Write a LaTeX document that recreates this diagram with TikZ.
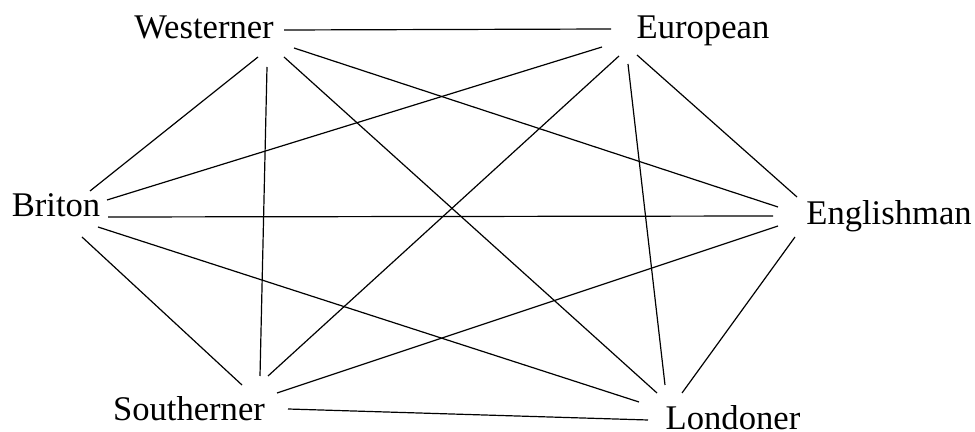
\documentclass[tikz,border=0pt]{standalone}
\usepackage{fontspec}
\setmainfont{Liberation Serif}
\begin{document}
\begin{tikzpicture}[x=0.5pt,y=-0.5pt,
  lbl/.style={anchor=base,inner sep=0pt,font=\fontsize{17.3}{20}\selectfont},
  edge/.style={draw=black,line width=0.6pt}]
\useasboundingbox (0,0) rectangle (975,432);
\node[lbl] (W) at (204,39) {Westerner};
\node[lbl] (E) at (703,39) {European};
\node[lbl] (B) at (56,217) {Briton};
\node[lbl] (G) at (889,225) {Englishman};
\node[lbl] (S) at (189,421) {Southerner};
\node[lbl] (L) at (733,430) {Londoner};
% Westerner
\draw[edge] ([shift={(80,-9)}]W.base) -- ([shift={(-92,-10)}]E.base);
\draw[edge] ([shift={(90,9)}]W.base) -- ([shift={(-111,-18)}]G.base);
\draw[edge] ([shift={(54,18)}]W.base) -- ([shift={(34,-26)}]B.base);
\draw[edge] ([shift={(63,28)}]W.base) -- ([shift={(71,-45)}]S.base);
\draw[edge] ([shift={(80,18)}]W.base) -- ([shift={(-76,-37)}]L.base);
% European
\draw[edge] ([shift={(-101,8)}]E.base) -- ([shift={(51,-17)}]B.base);
\draw[edge] ([shift={(-84,17)}]E.base) -- ([shift={(79,-45)}]S.base);
\draw[edge] ([shift={(-75,25)}]E.base) -- ([shift={(-68,-45)}]L.base);
\draw[edge] ([shift={(-66,16)}]E.base) -- ([shift={(-92,-28)}]G.base);
% Briton
\draw[edge] ([shift={(52,0)}]B.base) -- ([shift={(-116,-9)}]G.base);
\draw[edge] ([shift={(42,10)}]B.base) -- ([shift={(-94,-28)}]L.base);
\draw[edge] ([shift={(26,20)}]B.base) -- ([shift={(53,-36)}]S.base);
% Englishman
\draw[edge] ([shift={(-111,1)}]G.base) -- ([shift={(88,-28)}]S.base);
\draw[edge] ([shift={(-94,12)}]G.base) -- ([shift={(-51,-37)}]L.base);
% Southerner
\draw[edge] ([shift={(99,-12)}]S.base) -- ([shift={(-85,-10)}]L.base);
\end{tikzpicture}
\end{document}
